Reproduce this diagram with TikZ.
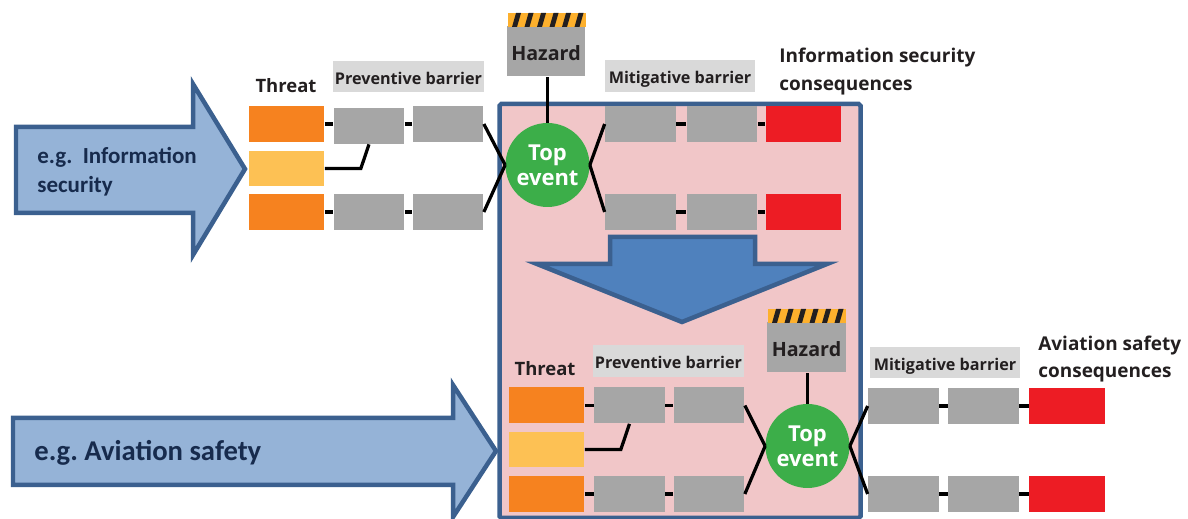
\documentclass[tikz,border=0pt]{standalone}
\usepackage{fontspec}
\setmainfont{Open Sans}
\newfontfamily\calfont{Carlito}
\definecolor{threatorange}{RGB}{246, 130, 31}
\definecolor{threatyellow}{RGB}{253, 193, 84}
\definecolor{barriergrey}{RGB}{166, 166, 166}
\definecolor{labelgrey}{RGB}{217, 217, 217}
\definecolor{conred}{RGB}{237, 28, 36}
\definecolor{topgreen}{RGB}{60, 174, 73}
\definecolor{framepink}{RGB}{241, 198, 200}
\definecolor{frameblue}{RGB}{59, 96, 143}
\definecolor{arrowlight}{RGB}{149, 179, 215}
\definecolor{arrowdark}{RGB}{79, 129, 189}
\definecolor{hazardamber}{RGB}{253, 176, 45}
\definecolor{hazardblack}{RGB}{35, 31, 32}
\definecolor{textnavy}{RGB}{23, 43, 77}
\tikzset{
  box/.style={inner sep=0pt, minimum height=0.72cm},
  threatbox/.style={box, minimum width=1.52cm, fill=threatorange},
  softbox/.style={box, minimum width=1.52cm, fill=threatyellow, minimum height=0.7cm},
  barrier/.style={box, minimum width=1.42cm, fill=barriergrey},
  conbox/.style={box, minimum width=1.52cm, fill=conred},
  hazardbox/.style={inner sep=0pt, minimum width=1.57cm, minimum height=1cm, fill=barriergrey, text height=10.2pt, text depth=0pt, font=\bfseries\fontsize{11.2}{13}\selectfont, text=hazardblack},
  topevent/.style={circle, inner sep=0pt, minimum size=1.68cm, fill=topgreen, text=white, align=center, text depth=-1.6pt, font=\bfseries\fontsize{12.5}{14.5}\selectfont},
  barlabel/.style={inner sep=0pt, minimum width=3.02cm, minimum height=0.63cm, fill=labelgrey, text=hazardblack, text height=9pt, text depth=0pt, font=\bfseries\fontsize{9.2}{11}\selectfont},
  headlabel/.style={inner sep=0pt, text=hazardblack, align=left, font=\bfseries\fontsize{10.5}{16}\selectfont},
  conlabel/.style={headlabel, anchor=west, font=\bfseries\fontsize{10.8}{15.6}\selectfont},
  link/.style={line width=0.065cm, black},
  bigarrow/.style={line width=0.09cm, draw=frameblue, miter limit=10}
}
\begin{document}
\begin{tikzpicture}[x=0.02cm, y=-0.02cm]
  \useasboundingbox (0,0) rectangle (1188,519);

  % Frame
  \draw[line width=0.09cm, draw=frameblue, fill=framepink, rounded corners=1pt] (499.5,104) rectangle (860.5,518);

  % Input arrows
  \draw[bigarrow, fill=arrowlight] (16,127) -- (193,127) -- (193,84) -- (245,169) -- (193,255) -- (193,213) -- (16,213) -- cycle;
  \draw[bigarrow, fill=arrowlight] (13,418) -- (453,418) -- (453,385) -- (496,451) -- (453,517) -- (453,485) -- (13,485) -- cycle;
  \node[inner sep=0pt, text=textnavy, align=left, anchor=west, font=\calfont\bfseries\fontsize{13.1}{16.5}\selectfont] (txtinfo) at (37,172) {e.g.\ \ Information\\security};
  \node[inner sep=0pt, text=textnavy, anchor=west, font=\calfont\bfseries\fontsize{16.3}{18}\selectfont] (txtavi) at (34,453) {e.g.\ Aviation safety};

  % Down arrow
  \draw[bigarrow, fill=arrowdark] (610,237) -- (755,237) -- (755,264) -- (827,264) -- (682,322) -- (537,264) -- (610,264) -- cycle;

  % Upper bow tie
  \node[threatbox] (tA) at (286.5,124) {};
  \node[softbox] (tB) at (286.5,168.5) {};
  \node[threatbox] (tC) at (286.5,212) {};
  \node[barrier] (pA) at (369,126) {};
  \node[barrier] (pB) at (448,124) {};
  \node[barrier] (pC) at (369,212) {};
  \node[barrier] (pD) at (448,212) {};
  \node[hazardbox, anchor=north] (hazU) at (546,26) {Hazard};
  \node[topevent] (topU) at (547.5,165) {Top\\event};
  \node[barrier] (mA) at (640.5,124) {};
  \node[barrier] (mB) at (722,124) {};
  \node[conbox] (cA) at (803.5,124) {};
  \node[barrier] (mC) at (640.5,212) {};
  \node[barrier] (mD) at (722,212) {};
  \node[conbox] (cB) at (803.5,212) {};
  \node[headlabel] (thrU) at (286,86) {Threat};
  \node[barlabel] (preU) at (408.5,76.5) {Preventive barrier};
  \node[barlabel] (mitU) at (680,76) {Mitigative barrier};
  \node[conlabel] (conU) at (779,71.5) {Information security\\consequences};

  \draw[link] (tA) -- (pA.west |- tA);
  \draw[link] (pA.east |- pB) -- (pB);
  \draw[link] (tB.east) -- ++(36,0) -- (pA.south);
  \draw[link] (tC) -- (pC);
  \draw[link] (pC) -- (pD);
  \draw[link] (pB.east) -- (topU.west);
  \draw[link] (pD.east) -- (topU.west);
  \draw[link] (topU.north) -- (topU.north |- hazU.south);
  \draw[link] (topU.east) -- (mA.west);
  \draw[link] (topU.east) -- (mC.west);
  \draw[link] (mA) -- (mB);
  \draw[link] (mB) -- (cA);
  \draw[link] (mC) -- (mD);
  \draw[link] (mD) -- (cB);

  % Lower bow tie
  \node[threatbox] (tE) at (546.5,405.5) {};
  \node[softbox] (tF) at (546.5,449.5) {};
  \node[threatbox] (tG) at (546.5,494) {};
  \node[barrier] (pE) at (629.5,405.5) {};
  \node[barrier] (pF) at (709,405.5) {};
  \node[barrier] (pG) at (629.5,494) {};
  \node[barrier] (pH) at (709,494) {};
  \node[hazardbox, anchor=north] (hazL) at (806.5,322) {Hazard};
  \node[topevent] (topL) at (807.5,446) {Top\\event};
  \node[barrier] (mE) at (903.5,406) {};
  \node[barrier] (mF) at (983.5,406) {};
  \node[conbox] (cC) at (1067,406) {};
  \node[barrier] (mG) at (903.5,494) {};
  \node[barrier] (mH) at (983.5,494) {};
  \node[conbox] (cD) at (1067,494) {};
  \node[headlabel] (thrL) at (545,369) {Threat};
  \node[barlabel] (preL) at (668.5,361) {Preventive barrier};
  \node[barlabel] (mitL) at (945,362.5) {Mitigative barrier};
  \node[conlabel] (conL) at (1038,359) {Aviation safety\\consequences};

  \draw[link] (tE) -- (pE);
  \draw[link] (pE) -- (pF);
  \draw[link] (tF.east) -- ++(36,0) -- (pE.south);
  \draw[link] (tG) -- (pG);
  \draw[link] (pG) -- (pH);
  \draw[link] (pF.east) -- (topL.west);
  \draw[link] (pH.east) -- (topL.west);
  \draw[link] (topL.north) -- (topL.north |- hazL.south);
  \draw[link] (topL.east) -- (mE.west);
  \draw[link] (topL.east) -- (mG.west);
  \draw[link] (mE) -- (mF);
  \draw[link] (mF) -- (cC);
  \draw[link] (mG) -- (mH);
  \draw[link] (mH) -- (cD);

  % Hazard stripes
  \foreach \sx/\sy in {507.5/13, 767.5/309} {
    \fill[hazardamber] (\sx,\sy) rectangle ++(78.5,14);
    \foreach \i in {0,...,5}
      \fill[hazardblack] ({\sx+4.5+12.5*\i},\sy+14) -- ++(5,0) -- ++(4,-14) -- ++(-5,0) -- cycle;
  }
\end{tikzpicture}
\end{document}
